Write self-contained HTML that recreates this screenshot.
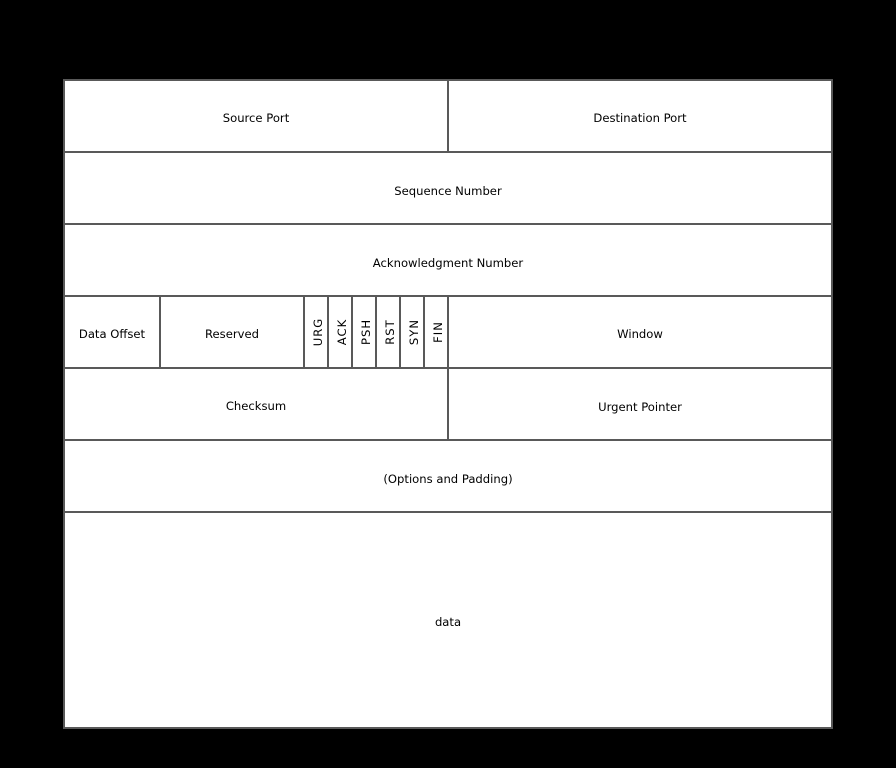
<!DOCTYPE html>
<html><head><style>html,body{margin:0;padding:0;background:#000;}svg{display:block}</style></head>
<body>
<svg width="896" height="768" xmlns="http://www.w3.org/2000/svg" font-family="DejaVu Sans, sans-serif" font-size="11.6" fill="#000">
<rect x="0" y="0" width="896" height="768" fill="#000"/>
<rect x="64" y="80" width="768" height="648" fill="#fff" stroke="#595959" stroke-width="2"/>
<g stroke="#595959" stroke-width="2">
<line x1="64" y1="152" x2="832" y2="152"/>
<line x1="64" y1="224" x2="832" y2="224"/>
<line x1="64" y1="296" x2="832" y2="296"/>
<line x1="64" y1="368" x2="832" y2="368"/>
<line x1="64" y1="440" x2="832" y2="440"/>
<line x1="64" y1="512" x2="832" y2="512"/>
<line x1="448" y1="80" x2="448" y2="152"/>
<line x1="448" y1="296" x2="448" y2="440"/>
<line x1="160" y1="296" x2="160" y2="368"/>
<line x1="304" y1="296" x2="304" y2="368"/>
<line x1="328" y1="296" x2="328" y2="368"/>
<line x1="352" y1="296" x2="352" y2="368"/>
<line x1="376" y1="296" x2="376" y2="368"/>
<line x1="400" y1="296" x2="400" y2="368"/>
<line x1="424" y1="296" x2="424" y2="368"/>
</g>
<g text-anchor="middle">
<text x="256" y="122">Source Port</text>
<text x="640" y="122">Destination Port</text>
<text x="448" y="195">Sequence Number</text>
<text x="448" y="267">Acknowledgment Number</text>
<text x="112" y="338">Data Offset</text>
<text x="232" y="338">Reserved</text>
<text x="640" y="338">Window</text>
<text x="256" y="410">Checksum</text>
<text x="640" y="411">Urgent Pointer</text>
<text x="448" y="483">(Options and Padding)</text>
<text x="448" y="626">data</text>
<text transform="translate(322,332) rotate(-90)" letter-spacing="1">URG</text>
<text transform="translate(346,332) rotate(-90)" letter-spacing="1">ACK</text>
<text transform="translate(370,332) rotate(-90)" letter-spacing="1">PSH</text>
<text transform="translate(394,332) rotate(-90)" letter-spacing="1">RST</text>
<text transform="translate(418,332) rotate(-90)" letter-spacing="1">SYN</text>
<text transform="translate(442,332) rotate(-90)" letter-spacing="1">FIN</text>
</g>
</svg>
</body></html>
